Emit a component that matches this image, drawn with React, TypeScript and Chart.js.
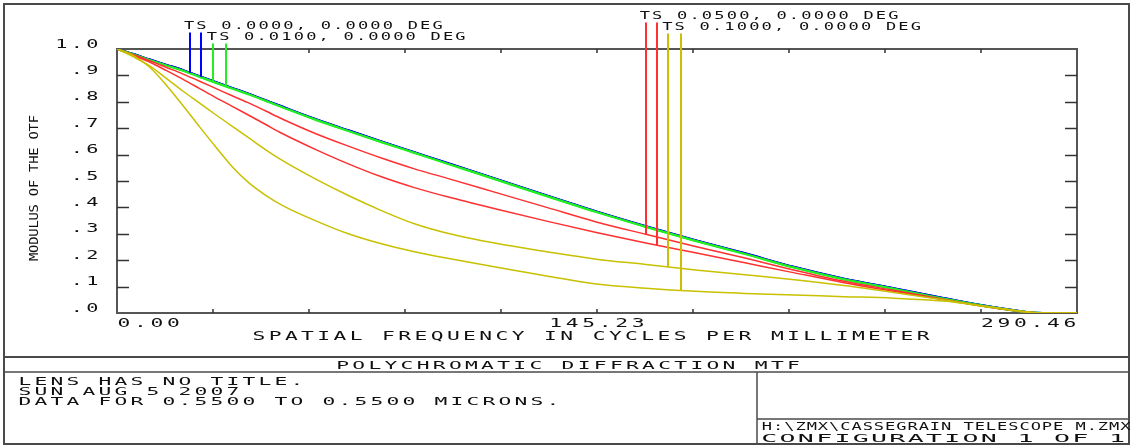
import React, { useEffect, useRef } from 'react';
import { Chart, registerables } from 'chart.js';

Chart.register(...registerables);

// ---- data ----
const FREQ = [0, 5, 10, 15, 20, 25, 30, 35, 40, 45, 50, 60, 70, 80, 90, 100, 115, 130, 145, 160, 175, 190, 205, 220, 235, 250, 265, 280, 290.46];

const MTF_F0_T = [1.0, 0.981, 0.960, 0.940, 0.920, 0.897, 0.874, 0.852, 0.830, 0.806, 0.782, 0.735, 0.692, 0.650, 0.609, 0.568, 0.507, 0.445, 0.385, 0.329, 0.276, 0.226, 0.174, 0.130, 0.094, 0.057, 0.023, 0.0, 0.0];
const MTF_F0_S = [1.0, 0.981, 0.960, 0.940, 0.920, 0.897, 0.874, 0.852, 0.830, 0.806, 0.782, 0.735, 0.692, 0.650, 0.609, 0.568, 0.507, 0.445, 0.385, 0.329, 0.276, 0.226, 0.174, 0.130, 0.094, 0.057, 0.023, 0.0, 0.0];
const MTF_F1_T = [1.0, 0.979, 0.958, 0.938, 0.918, 0.895, 0.872, 0.850, 0.828, 0.804, 0.780, 0.733, 0.690, 0.648, 0.607, 0.566, 0.505, 0.443, 0.383, 0.327, 0.274, 0.224, 0.172, 0.128, 0.092, 0.055, 0.022, 0.0, 0.0];
const MTF_F1_S = [1.0, 0.979, 0.958, 0.937, 0.917, 0.894, 0.871, 0.849, 0.827, 0.803, 0.779, 0.732, 0.689, 0.647, 0.606, 0.565, 0.504, 0.442, 0.382, 0.326, 0.273, 0.223, 0.171, 0.127, 0.091, 0.054, 0.021, 0.0, 0.0];
const MTF_F2_T = [1.0, 0.978, 0.955, 0.930, 0.905, 0.878, 0.850, 0.822, 0.795, 0.765, 0.735, 0.680, 0.632, 0.587, 0.546, 0.510, 0.455, 0.400, 0.345, 0.298, 0.252, 0.208, 0.162, 0.120, 0.086, 0.052, 0.021, 0.0, 0.0];
const MTF_F2_S = [1.0, 0.975, 0.950, 0.918, 0.885, 0.850, 0.815, 0.782, 0.748, 0.714, 0.680, 0.620, 0.565, 0.516, 0.475, 0.440, 0.393, 0.348, 0.305, 0.265, 0.228, 0.190, 0.152, 0.115, 0.082, 0.050, 0.020, 0.0, 0.0];
const MTF_F3_T = [1.0, 0.970, 0.935, 0.888, 0.840, 0.795, 0.750, 0.706, 0.662, 0.618, 0.578, 0.508, 0.445, 0.388, 0.338, 0.302, 0.263, 0.232, 0.204, 0.184, 0.163, 0.145, 0.126, 0.104, 0.078, 0.050, 0.020, 0.0, 0.0];
const MTF_F3_S = [1.0, 0.975, 0.930, 0.862, 0.785, 0.705, 0.627, 0.552, 0.492, 0.446, 0.408, 0.350, 0.300, 0.262, 0.232, 0.207, 0.173, 0.140, 0.110, 0.094, 0.082, 0.074, 0.068, 0.062, 0.056, 0.045, 0.022, 0.0, 0.0];

const FIELD_LABELS = ['TS 0.0000, 0.0000 DEG', 'TS 0.0100, 0.0000 DEG', 'TS 0.0500, 0.0000 DEG', 'TS 0.1000, 0.0000 DEG'];
const FIELD_COLORS = ['#0000ff', '#22ee22', '#ff3030', '#c8c000'];
const MARKER_FREQ_T = [22.1, 29.0, 160.0, 166.8];
const MARKER_FREQ_S = [25.4, 32.9, 163.5, 170.6];

const X_MAX = 290.46;
const X_TICK_VALUES = [0, 29.046, 58.092, 87.138, 116.184, 145.23, 174.276, 203.322, 232.368, 261.414, 290.46];
const X_LABEL_VALUES = [0, 145.23, 290.46];
const X_LABELS = ['0.00', '145.23', '290.46'];
const Y_TICK_VALUES = [1.0, 0.9, 0.8, 0.7, 0.6, 0.5, 0.4, 0.3, 0.2, 0.1, 0.0];
const Y_LABELS = ['1.0', '.9', '.8', '.7', '.6', '.5', '.4', '.3', '.2', '.1', '.0'];

const X_TITLE = 'SPATIAL FREQUENCY IN CYCLES PER MILLIMETER';
const Y_TITLE = 'MODULUS OF THE OTF';
const CHART_TITLE = 'POLYCHROMATIC DIFFRACTION MTF';
const INFO_LINES = ['LENS HAS NO TITLE.', 'SUN AUG 5 2007', 'DATA FOR 0.5500 TO 0.5500 MICRONS.'];
const FILE_LINE = 'H:\\ZMX\\CASSEGRAIN TELESCOPE M.ZMX';
const CONFIG_LINE = 'CONFIGURATION 1 OF 1';

// ---- helpers ----
type TOpts = { adv: number; cap: number; glyph: number; align?: 'left' | 'center' | 'right'; color?: string };

function spacedText(ctx: CanvasRenderingContext2D, text: string, x: number, cy: number, o: TOpts) {
  const size = o.cap / 0.73;
  ctx.save();
  ctx.font = `${size}px "DejaVu Sans Mono", "Liberation Mono", monospace`;
  ctx.fillStyle = o.color || '#111111';
  ctx.textAlign = 'left';
  ctx.textBaseline = 'alphabetic';
  const cw = ctx.measureText('0').width;
  const sx = o.glyph / (cw * 0.78);
  const total = (text.length - 1) * o.adv + o.glyph;
  const align = o.align || 'left';
  const x0 = align === 'left' ? x : align === 'right' ? x - total : x - total / 2;
  const bearing = (cw * sx - o.glyph) / 2;
  ctx.translate(x0 - bearing, cy + o.cap / 2);
  ctx.scale(sx, 1);
  const anyCtx = ctx as any;
  if ('letterSpacing' in anyCtx) {
    anyCtx.letterSpacing = `${o.adv / sx - cw}px`;
    ctx.fillText(text, 0, 0);
  } else {
    for (let i = 0; i < text.length; i++) ctx.fillText(text[i], (i * o.adv) / sx, 0);
  }
  ctx.restore();
}

function seg(ctx: CanvasRenderingContext2D, x1: number, y1: number, x2: number, y2: number) {
  ctx.beginPath();
  ctx.moveTo(x1, y1);
  ctx.lineTo(x2, y2);
  ctx.stroke();
}

function interp(xs: number[], ys: number[], x: number) {
  for (let i = 1; i < xs.length; i++) {
    if (x <= xs[i]) {
      const t = (x - xs[i - 1]) / (xs[i] - xs[i - 1]);
      return ys[i - 1] + t * (ys[i] - ys[i - 1]);
    }
  }
  return ys[ys.length - 1];
}

const SERIES_T = [MTF_F0_T, MTF_F1_T, MTF_F2_T, MTF_F3_T];
const SERIES_S = [MTF_F0_S, MTF_F1_S, MTF_F2_S, MTF_F3_S];
const LEGEND_ROWS = [24.5, 35.5, 14.5, 25.5];

const zemaxPlugin = {
  id: 'zemaxFrame',
  beforeDatasetsDraw(chart: any) {
    const ctx: CanvasRenderingContext2D = chart.ctx;
    const { left, right, top, bottom } = chart.chartArea;
    const xs = chart.scales.x;
    const ys = chart.scales.y;
    ctx.save();
    ctx.strokeStyle = '#4a4a4a';
    ctx.lineWidth = 2;
    ctx.strokeRect(4, 4, 1125, 440);
    seg(ctx, 4, 357, 1129, 357);
    ctx.lineWidth = 1.5;
    seg(ctx, 4, 372, 1129, 372);
    seg(ctx, 757, 372, 757, 444);
    seg(ctx, 757, 419, 1129, 419);
    // plot frame
    ctx.strokeStyle = '#555555';
    ctx.lineWidth = 2;
    ctx.strokeRect(left, top, right - left, bottom - top);
    ctx.lineWidth = 1.5;
    ctx.strokeStyle = '#333333';
    Y_TICK_VALUES.forEach((v) => {
      if (v <= 0 || v >= 1) return;
      const py = Math.round(ys.getPixelForValue(v)) + 0.5;
      seg(ctx, left, py, left + 12, py);
      seg(ctx, right - 12, py, right, py);
    });
    X_TICK_VALUES.forEach((v) => {
      if (v <= 0 || v >= X_MAX) return;
      const px = Math.round(xs.getPixelForValue(v));
      seg(ctx, px, bottom, px, bottom - 4);
      seg(ctx, px, top, px, top + 4);
    });
    ctx.restore();
  },
  afterDatasetsDraw(chart: any) {
    const ctx: CanvasRenderingContext2D = chart.ctx;
    const xs = chart.scales.x;
    const ys = chart.scales.y;
    ctx.save();
    ctx.lineWidth = 2;
    for (let f = 0; f < 4; f++) {
      ctx.strokeStyle = FIELD_COLORS[f];
      const topY = LEGEND_ROWS[f] + 8;
      const pairs: [number, number[]][] = [[MARKER_FREQ_T[f], SERIES_T[f]], [MARKER_FREQ_S[f], SERIES_S[f]]];
      pairs.forEach(([mf, arr]) => {
        const px = Math.round(xs.getPixelForValue(mf));
        const py = ys.getPixelForValue(interp(FREQ, arr, mf));
        seg(ctx, px, topY, px, py);
      });
    }
    ctx.restore();
  },
  afterDraw(chart: any) {
    const ctx: CanvasRenderingContext2D = chart.ctx;
    const { left, right, bottom } = chart.chartArea;
    const xs = chart.scales.x;
    const ys = chart.scales.y;
    // legend texts
    for (let f = 0; f < 4; f++) {
      const lx = xs.getPixelForValue(MARKER_FREQ_T[f]) - 5;
      spacedText(ctx, FIELD_LABELS[f], lx, LEGEND_ROWS[f], { adv: 12.43, cap: 8, glyph: 8 });
    }
    // y labels
    Y_TICK_VALUES.forEach((v, i) => {
      const py = ys.getPixelForValue(v) - 6;
      spacedText(ctx, Y_LABELS[i], left - 20, py, { adv: 15.5, cap: 9, glyph: 9.5, align: 'right' });
    });
    // x labels
    X_LABEL_VALUES.forEach((v, i) => {
      const px = xs.getPixelForValue(v);
      const align = i === 0 ? 'left' : i === X_LABEL_VALUES.length - 1 ? 'right' : 'center';
      const ax = i === 0 ? px + 2 : i === X_LABEL_VALUES.length - 1 ? px - 2 : px;
      spacedText(ctx, X_LABELS[i], ax, bottom + 9.5, { adv: 16.5, cap: 9, glyph: 10, align });
    });
    spacedText(ctx, X_TITLE, (left + right) / 2 - 6, bottom + 23, { adv: 16.2, cap: 8.5, glyph: 10, align: 'center' });
    // y title rotated
    ctx.save();
    ctx.translate(33, 188);
    ctx.rotate(-Math.PI / 2);
    spacedText(ctx, Y_TITLE, 0, 0, { adv: 8.1, cap: 9, glyph: 6.5, align: 'center' });
    ctx.restore();
    // bottom panel
    spacedText(ctx, CHART_TITLE, 568, 364.5, { adv: 16.1, cap: 8, glyph: 10, align: 'center' });
    const infoY = [381, 391, 401];
    INFO_LINES.forEach((t, i) => spacedText(ctx, t, 20, infoY[i], { adv: 16, cap: 8, glyph: 10 }));
    spacedText(ctx, FILE_LINE, 763, 426, { adv: 11.2, cap: 8, glyph: 8 });
    spacedText(ctx, CONFIG_LINE, 763, 437.5, { adv: 18.3, cap: 8, glyph: 12.5 });
  },
};

export default function App() {
  const ref = useRef<HTMLCanvasElement | null>(null);
  useEffect(() => {
    if (!ref.current) return;
    const mk = (arr: number[]) => FREQ.map((x, i) => ({ x, y: arr[i] }));
    const ds = (label: string, arr: number[], color: string, width: number) => ({
      label,
      data: mk(arr),
      borderColor: color,
      backgroundColor: color,
      borderWidth: width,
      pointRadius: 0,
      cubicInterpolationMode: 'monotone' as const,
      fill: false,
    });
    const chart = new Chart(ref.current, {
      type: 'line',
      data: {
        datasets: [
          ds('TS 0.1000 S', MTF_F3_S, FIELD_COLORS[3], 1.5),
          ds('TS 0.1000 T', MTF_F3_T, FIELD_COLORS[3], 1.5),
          ds('TS 0.0500 S', MTF_F2_S, FIELD_COLORS[2], 1.5),
          ds('TS 0.0500 T', MTF_F2_T, FIELD_COLORS[2], 1.5),
          ds('TS 0.0100 S', MTF_F1_S, FIELD_COLORS[1], 2),
          ds('TS 0.0100 T', MTF_F1_T, FIELD_COLORS[1], 2),
          ds('TS 0.0000 S', MTF_F0_S, FIELD_COLORS[0], 2),
          ds('TS 0.0000 T', MTF_F0_T, FIELD_COLORS[0], 2),
        ],
      },
      options: {
        animation: false,
        responsive: false,
        devicePixelRatio: 1,
        layout: { padding: { left: 117, right: 55, top: 49, bottom: 132 } },
        scales: {
          x: { type: 'linear', min: 0, max: X_MAX, display: false },
          y: { type: 'linear', min: 0, max: 1, display: false },
        },
        plugins: { legend: { display: false }, tooltip: { enabled: false } },
      },
      plugins: [zemaxPlugin],
    });
    return () => chart.destroy();
  }, []);
  return (
    <div style={{ position: 'absolute', left: 0, top: 0, width: 1132, height: 445, background: '#ffffff' }}>
      <canvas ref={ref} width={1132} height={445} style={{ display: 'block', width: 1132, height: 445 }} />
    </div>
  );
}
